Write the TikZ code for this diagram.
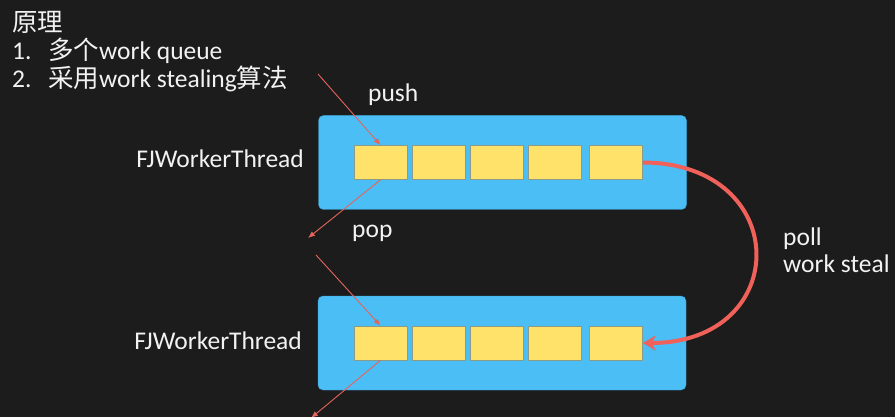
\documentclass[tikz,border=0pt]{standalone}
\usepackage{fontspec}
\setmainfont{Carlito}
\newfontfamily\cjk{Noto Sans CJK SC}
\usetikzlibrary{arrows.meta}
\definecolor{board}{HTML}{1C1C1C}
\definecolor{chalk}{HTML}{F2F2F2}
\definecolor{queueblue}{HTML}{4ABEF5}
\definecolor{queueedge}{HTML}{3AA6DC}
\definecolor{taskyellow}{HTML}{FFE26A}
\definecolor{taskedge}{HTML}{8C9A88}
\definecolor{opred}{HTML}{E5645C}
\definecolor{stealred}{HTML}{F0615A}
\tikzset{
    chalktext/.style={text=chalk, inner sep=0pt, font=\fontsize{25.5pt}{28pt}\selectfont},
    queue/.style={draw=queueedge, fill=queueblue, rounded corners=5pt, minimum width=368pt, minimum height=94pt, inner sep=0pt},
    task/.style={draw=taskedge, line width=0.6pt, fill=taskyellow, minimum width=53pt, minimum height=34pt, inner sep=0pt},
    op/.style={draw=opred, line width=0.9pt, -{Latex[length=7pt,width=5.5pt]}},
    steal/.style={draw=stealred, line width=4pt, -{Stealth[length=13pt,width=15pt]}}
}
\begin{document}
\begin{tikzpicture}[x=1pt,y=-1pt]
    \useasboundingbox (0,0) rectangle (895,417);
    \fill[board] (0,0) rectangle (895,417);
    % heading
    \node[chalktext, anchor=base west] (title) at (12,32) {\cjk 原理};
    \node[chalktext, anchor=base west] (n1) at (12,60) {1.};
    \node[chalktext, anchor=base west] (item1) at (48,60) {{\cjk 多个}work queue};
    \node[chalktext, anchor=base west] (n2) at (12,88) {2.};
    \node[chalktext, anchor=base west] (item2) at (48,88) {{\cjk 采用}work stealing{\cjk 算法}};
    % two worker queues
    \node[queue] (q1) at (502.5,162.5) {};
    \node[queue] (q2) at (502,343) {};
    \foreach \i/\x in {1/380.5,2/438.5,3/496.5,4/554.5,5/616} {
        \node[task] (t\i) at (\x,162.5) {};
        \node[task] (b\i) at (\x,343) {};
    }
    \node[chalktext, anchor=base east] (w1) at (304,168) {FJWorkerThread};
    \node[chalktext, anchor=base east] (w2) at (302,349) {FJWorkerThread};
    % push / pop
    \coordinate (pushin) at (318,74);
    \coordinate (popout) at (308,238);
    \coordinate (pushin2) at (316,255);
    \coordinate (popout2) at (311,418);
    \draw[op] (pushin) -- (t1.north);
    \draw[op] (t1.south) -- (popout);
    \draw[op] (pushin2) -- (b1.north);
    \draw[op] (b1.south) -- (popout2);
    \node[chalktext, anchor=base west] (push) at (368,102) {push};
    \node[chalktext, anchor=base west] (pop) at (352,237) {pop};
    % stealing
    \draw[steal] (t5.east) .. controls (793,163) and (793,343) .. (b5.east);
    \node[chalktext, anchor=base west] (poll) at (783,245) {poll};
    \node[chalktext, anchor=base west] (ws) at (783,272) {work steal};
\end{tikzpicture}
\end{document}
